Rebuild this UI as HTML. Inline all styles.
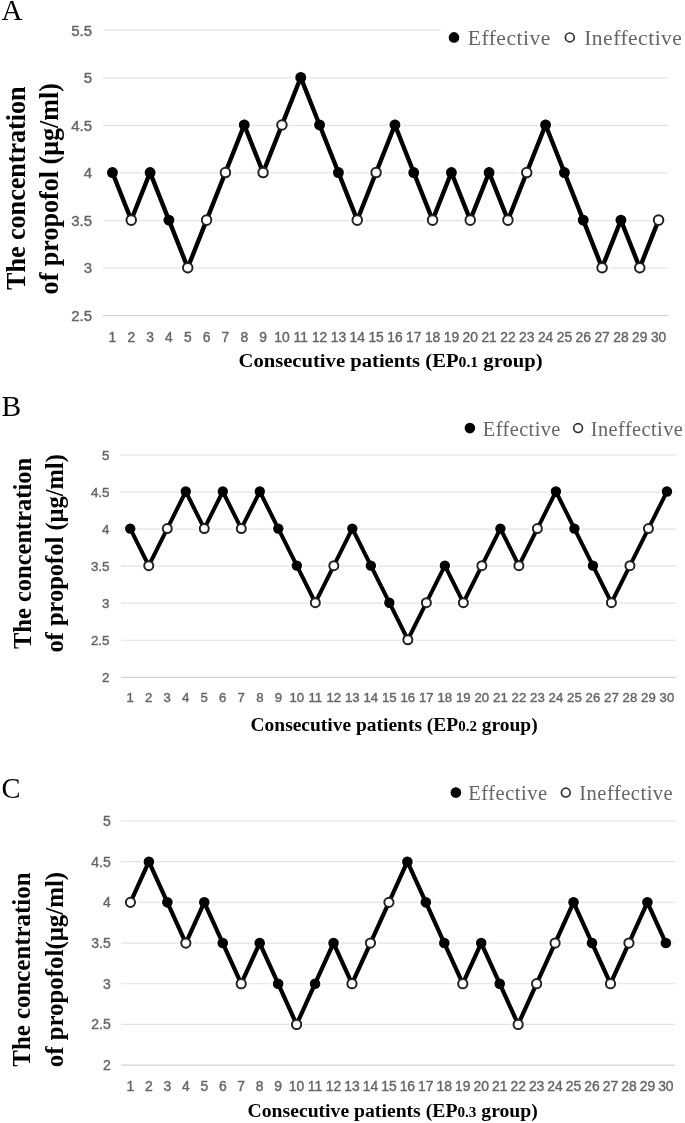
<!DOCTYPE html>
<html><head><meta charset="utf-8"><style>
html,body{margin:0;padding:0;background:#fff;}
svg{display:block;will-change:transform;}
.g{stroke:#e3e3e3;stroke-width:1.2;}
.ax{stroke:#d2d2d2;stroke-width:1.2;}
.tk{font-family:"Liberation Sans",sans-serif;fill:#666;stroke:#666;stroke-width:0.4px;}
.lt{font-family:"Liberation Serif",serif;fill:#000;}
.lg{font-family:"Liberation Serif",serif;fill:#656565;}
.yt{font-family:"Liberation Serif",serif;font-weight:bold;fill:#000;}
</style></head><body>
<svg width="685" height="1123" viewBox="0 0 685 1123">
<rect width="685" height="1123" fill="#fff"/>
<line x1="103.00" y1="30.20" x2="668.00" y2="30.20" class="g"/>
<text x="92.00" y="35.57" class="tk" text-anchor="end" font-size="15">5.5</text>
<line x1="103.00" y1="77.78" x2="668.00" y2="77.78" class="g"/>
<text x="92.00" y="83.15" class="tk" text-anchor="end" font-size="15">5</text>
<line x1="103.00" y1="125.37" x2="668.00" y2="125.37" class="g"/>
<text x="92.00" y="130.74" class="tk" text-anchor="end" font-size="15">4.5</text>
<line x1="103.00" y1="172.95" x2="668.00" y2="172.95" class="g"/>
<text x="92.00" y="178.32" class="tk" text-anchor="end" font-size="15">4</text>
<line x1="103.00" y1="220.53" x2="668.00" y2="220.53" class="g"/>
<text x="92.00" y="225.90" class="tk" text-anchor="end" font-size="15">3.5</text>
<line x1="103.00" y1="268.12" x2="668.00" y2="268.12" class="g"/>
<text x="92.00" y="273.49" class="tk" text-anchor="end" font-size="15">3</text>
<line x1="103.00" y1="315.70" x2="668.00" y2="315.70" class="ax"/>
<text x="92.00" y="321.07" class="tk" text-anchor="end" font-size="15">2.5</text>
<text x="112.42" y="342.00" class="tk" text-anchor="middle" font-size="13.8">1</text>
<text x="131.25" y="342.00" class="tk" text-anchor="middle" font-size="13.8">2</text>
<text x="150.08" y="342.00" class="tk" text-anchor="middle" font-size="13.8">3</text>
<text x="168.92" y="342.00" class="tk" text-anchor="middle" font-size="13.8">4</text>
<text x="187.75" y="342.00" class="tk" text-anchor="middle" font-size="13.8">5</text>
<text x="206.58" y="342.00" class="tk" text-anchor="middle" font-size="13.8">6</text>
<text x="225.42" y="342.00" class="tk" text-anchor="middle" font-size="13.8">7</text>
<text x="244.25" y="342.00" class="tk" text-anchor="middle" font-size="13.8">8</text>
<text x="263.08" y="342.00" class="tk" text-anchor="middle" font-size="13.8">9</text>
<text x="281.92" y="342.00" class="tk" text-anchor="middle" font-size="13.8">10</text>
<text x="300.75" y="342.00" class="tk" text-anchor="middle" font-size="13.8">11</text>
<text x="319.58" y="342.00" class="tk" text-anchor="middle" font-size="13.8">12</text>
<text x="338.42" y="342.00" class="tk" text-anchor="middle" font-size="13.8">13</text>
<text x="357.25" y="342.00" class="tk" text-anchor="middle" font-size="13.8">14</text>
<text x="376.08" y="342.00" class="tk" text-anchor="middle" font-size="13.8">15</text>
<text x="394.92" y="342.00" class="tk" text-anchor="middle" font-size="13.8">16</text>
<text x="413.75" y="342.00" class="tk" text-anchor="middle" font-size="13.8">17</text>
<text x="432.58" y="342.00" class="tk" text-anchor="middle" font-size="13.8">18</text>
<text x="451.42" y="342.00" class="tk" text-anchor="middle" font-size="13.8">19</text>
<text x="470.25" y="342.00" class="tk" text-anchor="middle" font-size="13.8">20</text>
<text x="489.08" y="342.00" class="tk" text-anchor="middle" font-size="13.8">21</text>
<text x="507.92" y="342.00" class="tk" text-anchor="middle" font-size="13.8">22</text>
<text x="526.75" y="342.00" class="tk" text-anchor="middle" font-size="13.8">23</text>
<text x="545.58" y="342.00" class="tk" text-anchor="middle" font-size="13.8">24</text>
<text x="564.42" y="342.00" class="tk" text-anchor="middle" font-size="13.8">25</text>
<text x="583.25" y="342.00" class="tk" text-anchor="middle" font-size="13.8">26</text>
<text x="602.08" y="342.00" class="tk" text-anchor="middle" font-size="13.8">27</text>
<text x="620.92" y="342.00" class="tk" text-anchor="middle" font-size="13.8">28</text>
<text x="639.75" y="342.00" class="tk" text-anchor="middle" font-size="13.8">29</text>
<text x="658.58" y="342.00" class="tk" text-anchor="middle" font-size="13.8">30</text>
<circle cx="112.42" cy="172.55" r="7.45" fill="#fff"/>
<circle cx="131.25" cy="220.13" r="7.45" fill="#fff"/>
<circle cx="150.08" cy="172.55" r="7.45" fill="#fff"/>
<circle cx="168.92" cy="220.13" r="7.45" fill="#fff"/>
<circle cx="187.75" cy="267.72" r="7.45" fill="#fff"/>
<circle cx="206.58" cy="220.13" r="7.45" fill="#fff"/>
<circle cx="225.42" cy="172.55" r="7.45" fill="#fff"/>
<circle cx="244.25" cy="124.97" r="7.45" fill="#fff"/>
<circle cx="263.08" cy="172.55" r="7.45" fill="#fff"/>
<circle cx="281.92" cy="124.97" r="7.45" fill="#fff"/>
<circle cx="300.75" cy="77.38" r="7.45" fill="#fff"/>
<circle cx="319.58" cy="124.97" r="7.45" fill="#fff"/>
<circle cx="338.42" cy="172.55" r="7.45" fill="#fff"/>
<circle cx="357.25" cy="220.13" r="7.45" fill="#fff"/>
<circle cx="376.08" cy="172.55" r="7.45" fill="#fff"/>
<circle cx="394.92" cy="124.97" r="7.45" fill="#fff"/>
<circle cx="413.75" cy="172.55" r="7.45" fill="#fff"/>
<circle cx="432.58" cy="220.13" r="7.45" fill="#fff"/>
<circle cx="451.42" cy="172.55" r="7.45" fill="#fff"/>
<circle cx="470.25" cy="220.13" r="7.45" fill="#fff"/>
<circle cx="489.08" cy="172.55" r="7.45" fill="#fff"/>
<circle cx="507.92" cy="220.13" r="7.45" fill="#fff"/>
<circle cx="526.75" cy="172.55" r="7.45" fill="#fff"/>
<circle cx="545.58" cy="124.97" r="7.45" fill="#fff"/>
<circle cx="564.42" cy="172.55" r="7.45" fill="#fff"/>
<circle cx="583.25" cy="220.13" r="7.45" fill="#fff"/>
<circle cx="602.08" cy="267.72" r="7.45" fill="#fff"/>
<circle cx="620.92" cy="220.13" r="7.45" fill="#fff"/>
<circle cx="639.75" cy="267.72" r="7.45" fill="#fff"/>
<circle cx="658.58" cy="220.13" r="7.45" fill="#fff"/>
<polyline fill="none" stroke="#000" stroke-width="4.40" stroke-linejoin="miter" points="112.42,172.55 131.25,220.13 150.08,172.55 168.92,220.13 187.75,267.72 206.58,220.13 225.42,172.55 244.25,124.97 263.08,172.55 281.92,124.97 300.75,77.38 319.58,124.97 338.42,172.55 357.25,220.13 376.08,172.55 394.92,124.97 413.75,172.55 432.58,220.13 451.42,172.55 470.25,220.13 489.08,172.55 507.92,220.13 526.75,172.55 545.58,124.97 564.42,172.55 583.25,220.13 602.08,267.72 620.92,220.13 639.75,267.72 658.58,220.13"/>
<circle cx="112.42" cy="172.55" r="5.45" fill="#000"/>
<circle cx="131.25" cy="220.13" r="4.77" fill="#fff" stroke="#222" stroke-width="2"/>
<circle cx="150.08" cy="172.55" r="5.45" fill="#000"/>
<circle cx="168.92" cy="220.13" r="5.45" fill="#000"/>
<circle cx="187.75" cy="267.72" r="4.77" fill="#fff" stroke="#222" stroke-width="2"/>
<circle cx="206.58" cy="220.13" r="4.77" fill="#fff" stroke="#222" stroke-width="2"/>
<circle cx="225.42" cy="172.55" r="4.77" fill="#fff" stroke="#222" stroke-width="2"/>
<circle cx="244.25" cy="124.97" r="5.45" fill="#000"/>
<circle cx="263.08" cy="172.55" r="4.77" fill="#fff" stroke="#222" stroke-width="2"/>
<circle cx="281.92" cy="124.97" r="4.77" fill="#fff" stroke="#222" stroke-width="2"/>
<circle cx="300.75" cy="77.38" r="5.45" fill="#000"/>
<circle cx="319.58" cy="124.97" r="5.45" fill="#000"/>
<circle cx="338.42" cy="172.55" r="5.45" fill="#000"/>
<circle cx="357.25" cy="220.13" r="4.77" fill="#fff" stroke="#222" stroke-width="2"/>
<circle cx="376.08" cy="172.55" r="4.77" fill="#fff" stroke="#222" stroke-width="2"/>
<circle cx="394.92" cy="124.97" r="5.45" fill="#000"/>
<circle cx="413.75" cy="172.55" r="5.45" fill="#000"/>
<circle cx="432.58" cy="220.13" r="4.77" fill="#fff" stroke="#222" stroke-width="2"/>
<circle cx="451.42" cy="172.55" r="5.45" fill="#000"/>
<circle cx="470.25" cy="220.13" r="4.77" fill="#fff" stroke="#222" stroke-width="2"/>
<circle cx="489.08" cy="172.55" r="5.45" fill="#000"/>
<circle cx="507.92" cy="220.13" r="4.77" fill="#fff" stroke="#222" stroke-width="2"/>
<circle cx="526.75" cy="172.55" r="4.77" fill="#fff" stroke="#222" stroke-width="2"/>
<circle cx="545.58" cy="124.97" r="5.45" fill="#000"/>
<circle cx="564.42" cy="172.55" r="5.45" fill="#000"/>
<circle cx="583.25" cy="220.13" r="5.45" fill="#000"/>
<circle cx="602.08" cy="267.72" r="4.77" fill="#fff" stroke="#222" stroke-width="2"/>
<circle cx="620.92" cy="220.13" r="5.45" fill="#000"/>
<circle cx="639.75" cy="267.72" r="4.77" fill="#fff" stroke="#222" stroke-width="2"/>
<circle cx="658.58" cy="220.13" r="4.77" fill="#fff" stroke="#222" stroke-width="2"/>
<text x="1.5" y="20.1" class="lt" font-size="29">A</text>
<rect x="441" y="20" width="244" height="36" fill="#fff"/>
<circle cx="454" cy="37.4" r="5.3" fill="#000"/>
<circle cx="569.8" cy="37.4" r="4.4" fill="#fff" stroke="#333" stroke-width="1.7"/>
<text x="467.8" y="45.1" class="lg" font-size="21.5" letter-spacing="0.5">Effective</text>
<text x="584.2" y="45.1" class="lg" font-size="21.5" letter-spacing="0.5">Ineffective</text>
<text transform="translate(24.6,188.2) scale(1.05,1) rotate(-90)" class="yt" text-anchor="middle" font-size="26.1">The concentration</text>
<text transform="translate(58.2,188.7) scale(1.05,1) rotate(-90)" class="yt" text-anchor="middle" font-size="26.1">of propofol (μg/ml)</text>
<text transform="translate(238.5,367) scale(1.086,1)" class="yt" font-size="19" letter-spacing="0">Consecutive patients (EP<tspan font-size="14.5">0.1</tspan> group)</text>
<line x1="121.00" y1="455.00" x2="676.20" y2="455.00" class="g"/>
<text x="109.50" y="459.80" class="tk" text-anchor="end" font-size="13.4">5</text>
<line x1="121.00" y1="492.05" x2="676.20" y2="492.05" class="g"/>
<text x="109.50" y="496.85" class="tk" text-anchor="end" font-size="13.4">4.5</text>
<line x1="121.00" y1="529.10" x2="676.20" y2="529.10" class="g"/>
<text x="109.50" y="533.90" class="tk" text-anchor="end" font-size="13.4">4</text>
<line x1="121.00" y1="566.15" x2="676.20" y2="566.15" class="g"/>
<text x="109.50" y="570.95" class="tk" text-anchor="end" font-size="13.4">3.5</text>
<line x1="121.00" y1="603.20" x2="676.20" y2="603.20" class="g"/>
<text x="109.50" y="608.00" class="tk" text-anchor="end" font-size="13.4">3</text>
<line x1="121.00" y1="640.25" x2="676.20" y2="640.25" class="g"/>
<text x="109.50" y="645.05" class="tk" text-anchor="end" font-size="13.4">2.5</text>
<line x1="121.00" y1="677.30" x2="676.20" y2="677.30" class="ax"/>
<text x="109.50" y="682.10" class="tk" text-anchor="end" font-size="13.4">2</text>
<text x="130.25" y="702.00" class="tk" text-anchor="middle" font-size="13.2">1</text>
<text x="148.76" y="702.00" class="tk" text-anchor="middle" font-size="13.2">2</text>
<text x="167.27" y="702.00" class="tk" text-anchor="middle" font-size="13.2">3</text>
<text x="185.77" y="702.00" class="tk" text-anchor="middle" font-size="13.2">4</text>
<text x="204.28" y="702.00" class="tk" text-anchor="middle" font-size="13.2">5</text>
<text x="222.79" y="702.00" class="tk" text-anchor="middle" font-size="13.2">6</text>
<text x="241.29" y="702.00" class="tk" text-anchor="middle" font-size="13.2">7</text>
<text x="259.80" y="702.00" class="tk" text-anchor="middle" font-size="13.2">8</text>
<text x="278.31" y="702.00" class="tk" text-anchor="middle" font-size="13.2">9</text>
<text x="296.81" y="702.00" class="tk" text-anchor="middle" font-size="13.2">10</text>
<text x="315.32" y="702.00" class="tk" text-anchor="middle" font-size="13.2">11</text>
<text x="333.83" y="702.00" class="tk" text-anchor="middle" font-size="13.2">12</text>
<text x="352.33" y="702.00" class="tk" text-anchor="middle" font-size="13.2">13</text>
<text x="370.84" y="702.00" class="tk" text-anchor="middle" font-size="13.2">14</text>
<text x="389.35" y="702.00" class="tk" text-anchor="middle" font-size="13.2">15</text>
<text x="407.85" y="702.00" class="tk" text-anchor="middle" font-size="13.2">16</text>
<text x="426.36" y="702.00" class="tk" text-anchor="middle" font-size="13.2">17</text>
<text x="444.87" y="702.00" class="tk" text-anchor="middle" font-size="13.2">18</text>
<text x="463.37" y="702.00" class="tk" text-anchor="middle" font-size="13.2">19</text>
<text x="481.88" y="702.00" class="tk" text-anchor="middle" font-size="13.2">20</text>
<text x="500.39" y="702.00" class="tk" text-anchor="middle" font-size="13.2">21</text>
<text x="518.89" y="702.00" class="tk" text-anchor="middle" font-size="13.2">22</text>
<text x="537.40" y="702.00" class="tk" text-anchor="middle" font-size="13.2">23</text>
<text x="555.91" y="702.00" class="tk" text-anchor="middle" font-size="13.2">24</text>
<text x="574.41" y="702.00" class="tk" text-anchor="middle" font-size="13.2">25</text>
<text x="592.92" y="702.00" class="tk" text-anchor="middle" font-size="13.2">26</text>
<text x="611.43" y="702.00" class="tk" text-anchor="middle" font-size="13.2">27</text>
<text x="629.93" y="702.00" class="tk" text-anchor="middle" font-size="13.2">28</text>
<text x="648.44" y="702.00" class="tk" text-anchor="middle" font-size="13.2">29</text>
<text x="666.95" y="702.00" class="tk" text-anchor="middle" font-size="13.2">30</text>
<circle cx="130.25" cy="528.60" r="7.20" fill="#fff"/>
<circle cx="148.76" cy="565.65" r="7.20" fill="#fff"/>
<circle cx="167.27" cy="528.60" r="7.20" fill="#fff"/>
<circle cx="185.77" cy="491.55" r="7.20" fill="#fff"/>
<circle cx="204.28" cy="528.60" r="7.20" fill="#fff"/>
<circle cx="222.79" cy="491.55" r="7.20" fill="#fff"/>
<circle cx="241.29" cy="528.60" r="7.20" fill="#fff"/>
<circle cx="259.80" cy="491.55" r="7.20" fill="#fff"/>
<circle cx="278.31" cy="528.60" r="7.20" fill="#fff"/>
<circle cx="296.81" cy="565.65" r="7.20" fill="#fff"/>
<circle cx="315.32" cy="602.70" r="7.20" fill="#fff"/>
<circle cx="333.83" cy="565.65" r="7.20" fill="#fff"/>
<circle cx="352.33" cy="528.60" r="7.20" fill="#fff"/>
<circle cx="370.84" cy="565.65" r="7.20" fill="#fff"/>
<circle cx="389.35" cy="602.70" r="7.20" fill="#fff"/>
<circle cx="407.85" cy="639.75" r="7.20" fill="#fff"/>
<circle cx="426.36" cy="602.70" r="7.20" fill="#fff"/>
<circle cx="444.87" cy="565.65" r="7.20" fill="#fff"/>
<circle cx="463.37" cy="602.70" r="7.20" fill="#fff"/>
<circle cx="481.88" cy="565.65" r="7.20" fill="#fff"/>
<circle cx="500.39" cy="528.60" r="7.20" fill="#fff"/>
<circle cx="518.89" cy="565.65" r="7.20" fill="#fff"/>
<circle cx="537.40" cy="528.60" r="7.20" fill="#fff"/>
<circle cx="555.91" cy="491.55" r="7.20" fill="#fff"/>
<circle cx="574.41" cy="528.60" r="7.20" fill="#fff"/>
<circle cx="592.92" cy="565.65" r="7.20" fill="#fff"/>
<circle cx="611.43" cy="602.70" r="7.20" fill="#fff"/>
<circle cx="629.93" cy="565.65" r="7.20" fill="#fff"/>
<circle cx="648.44" cy="528.60" r="7.20" fill="#fff"/>
<circle cx="666.95" cy="491.55" r="7.20" fill="#fff"/>
<polyline fill="none" stroke="#000" stroke-width="4.00" stroke-linejoin="miter" points="130.25,528.60 148.76,565.65 167.27,528.60 185.77,491.55 204.28,528.60 222.79,491.55 241.29,528.60 259.80,491.55 278.31,528.60 296.81,565.65 315.32,602.70 333.83,565.65 352.33,528.60 370.84,565.65 389.35,602.70 407.85,639.75 426.36,602.70 444.87,565.65 463.37,602.70 481.88,565.65 500.39,528.60 518.89,565.65 537.40,528.60 555.91,491.55 574.41,528.60 592.92,565.65 611.43,602.70 629.93,565.65 648.44,528.60 666.95,491.55"/>
<circle cx="130.25" cy="528.60" r="5.20" fill="#000"/>
<circle cx="148.76" cy="565.65" r="4.52" fill="#fff" stroke="#222" stroke-width="2"/>
<circle cx="167.27" cy="528.60" r="4.52" fill="#fff" stroke="#222" stroke-width="2"/>
<circle cx="185.77" cy="491.55" r="5.20" fill="#000"/>
<circle cx="204.28" cy="528.60" r="4.52" fill="#fff" stroke="#222" stroke-width="2"/>
<circle cx="222.79" cy="491.55" r="5.20" fill="#000"/>
<circle cx="241.29" cy="528.60" r="4.52" fill="#fff" stroke="#222" stroke-width="2"/>
<circle cx="259.80" cy="491.55" r="5.20" fill="#000"/>
<circle cx="278.31" cy="528.60" r="5.20" fill="#000"/>
<circle cx="296.81" cy="565.65" r="5.20" fill="#000"/>
<circle cx="315.32" cy="602.70" r="4.52" fill="#fff" stroke="#222" stroke-width="2"/>
<circle cx="333.83" cy="565.65" r="4.52" fill="#fff" stroke="#222" stroke-width="2"/>
<circle cx="352.33" cy="528.60" r="5.20" fill="#000"/>
<circle cx="370.84" cy="565.65" r="5.20" fill="#000"/>
<circle cx="389.35" cy="602.70" r="5.20" fill="#000"/>
<circle cx="407.85" cy="639.75" r="4.52" fill="#fff" stroke="#222" stroke-width="2"/>
<circle cx="426.36" cy="602.70" r="4.52" fill="#fff" stroke="#222" stroke-width="2"/>
<circle cx="444.87" cy="565.65" r="5.20" fill="#000"/>
<circle cx="463.37" cy="602.70" r="4.52" fill="#fff" stroke="#222" stroke-width="2"/>
<circle cx="481.88" cy="565.65" r="4.52" fill="#fff" stroke="#222" stroke-width="2"/>
<circle cx="500.39" cy="528.60" r="5.20" fill="#000"/>
<circle cx="518.89" cy="565.65" r="4.52" fill="#fff" stroke="#222" stroke-width="2"/>
<circle cx="537.40" cy="528.60" r="4.52" fill="#fff" stroke="#222" stroke-width="2"/>
<circle cx="555.91" cy="491.55" r="5.20" fill="#000"/>
<circle cx="574.41" cy="528.60" r="5.20" fill="#000"/>
<circle cx="592.92" cy="565.65" r="5.20" fill="#000"/>
<circle cx="611.43" cy="602.70" r="4.52" fill="#fff" stroke="#222" stroke-width="2"/>
<circle cx="629.93" cy="565.65" r="4.52" fill="#fff" stroke="#222" stroke-width="2"/>
<circle cx="648.44" cy="528.60" r="4.52" fill="#fff" stroke="#222" stroke-width="2"/>
<circle cx="666.95" cy="491.55" r="5.20" fill="#000"/>
<text x="1.5" y="415.7" class="lt" font-size="29.5">B</text>
<circle cx="469.9" cy="428.1" r="5.3" fill="#000"/>
<circle cx="578.1" cy="428.1" r="4.4" fill="#fff" stroke="#333" stroke-width="1.7"/>
<text x="482.8" y="435.5" class="lg" font-size="20.3" letter-spacing="0.45">Effective</text>
<text x="590.8" y="435.5" class="lg" font-size="20.3" letter-spacing="0.45">Ineffective</text>
<text transform="translate(30.9,553.4) scale(1.05,1) rotate(-90)" class="yt" text-anchor="middle" font-size="24.5">The concentration</text>
<text transform="translate(62.5,553.4) scale(1.05,1) rotate(-90)" class="yt" text-anchor="middle" font-size="24.5">of propofol (μg/ml)</text>
<text transform="translate(250.5,731.4) scale(1.082,1)" class="yt" font-size="18" letter-spacing="0">Consecutive patients (EP<tspan font-size="13.8">0.2</tspan> group)</text>
<line x1="121.20" y1="821.00" x2="675.10" y2="821.00" class="g"/>
<text x="110.80" y="826.01" class="tk" text-anchor="end" font-size="14">5</text>
<line x1="121.20" y1="861.68" x2="675.10" y2="861.68" class="g"/>
<text x="110.80" y="866.70" class="tk" text-anchor="end" font-size="14">4.5</text>
<line x1="121.20" y1="902.37" x2="675.10" y2="902.37" class="g"/>
<text x="110.80" y="907.38" class="tk" text-anchor="end" font-size="14">4</text>
<line x1="121.20" y1="943.05" x2="675.10" y2="943.05" class="g"/>
<text x="110.80" y="948.06" class="tk" text-anchor="end" font-size="14">3.5</text>
<line x1="121.20" y1="983.73" x2="675.10" y2="983.73" class="g"/>
<text x="110.80" y="988.75" class="tk" text-anchor="end" font-size="14">3</text>
<line x1="121.20" y1="1024.42" x2="675.10" y2="1024.42" class="g"/>
<text x="110.80" y="1029.43" class="tk" text-anchor="end" font-size="14">2.5</text>
<line x1="121.20" y1="1065.10" x2="675.10" y2="1065.10" class="ax"/>
<text x="110.80" y="1070.11" class="tk" text-anchor="end" font-size="14">2</text>
<text x="130.43" y="1090.70" class="tk" text-anchor="middle" font-size="13.9">1</text>
<text x="148.90" y="1090.70" class="tk" text-anchor="middle" font-size="13.9">2</text>
<text x="167.36" y="1090.70" class="tk" text-anchor="middle" font-size="13.9">3</text>
<text x="185.82" y="1090.70" class="tk" text-anchor="middle" font-size="13.9">4</text>
<text x="204.28" y="1090.70" class="tk" text-anchor="middle" font-size="13.9">5</text>
<text x="222.75" y="1090.70" class="tk" text-anchor="middle" font-size="13.9">6</text>
<text x="241.21" y="1090.70" class="tk" text-anchor="middle" font-size="13.9">7</text>
<text x="259.68" y="1090.70" class="tk" text-anchor="middle" font-size="13.9">8</text>
<text x="278.14" y="1090.70" class="tk" text-anchor="middle" font-size="13.9">9</text>
<text x="296.60" y="1090.70" class="tk" text-anchor="middle" font-size="13.9">10</text>
<text x="315.06" y="1090.70" class="tk" text-anchor="middle" font-size="13.9">11</text>
<text x="333.53" y="1090.70" class="tk" text-anchor="middle" font-size="13.9">12</text>
<text x="351.99" y="1090.70" class="tk" text-anchor="middle" font-size="13.9">13</text>
<text x="370.45" y="1090.70" class="tk" text-anchor="middle" font-size="13.9">14</text>
<text x="388.92" y="1090.70" class="tk" text-anchor="middle" font-size="13.9">15</text>
<text x="407.38" y="1090.70" class="tk" text-anchor="middle" font-size="13.9">16</text>
<text x="425.84" y="1090.70" class="tk" text-anchor="middle" font-size="13.9">17</text>
<text x="444.31" y="1090.70" class="tk" text-anchor="middle" font-size="13.9">18</text>
<text x="462.77" y="1090.70" class="tk" text-anchor="middle" font-size="13.9">19</text>
<text x="481.23" y="1090.70" class="tk" text-anchor="middle" font-size="13.9">20</text>
<text x="499.70" y="1090.70" class="tk" text-anchor="middle" font-size="13.9">21</text>
<text x="518.16" y="1090.70" class="tk" text-anchor="middle" font-size="13.9">22</text>
<text x="536.62" y="1090.70" class="tk" text-anchor="middle" font-size="13.9">23</text>
<text x="555.09" y="1090.70" class="tk" text-anchor="middle" font-size="13.9">24</text>
<text x="573.55" y="1090.70" class="tk" text-anchor="middle" font-size="13.9">25</text>
<text x="592.01" y="1090.70" class="tk" text-anchor="middle" font-size="13.9">26</text>
<text x="610.48" y="1090.70" class="tk" text-anchor="middle" font-size="13.9">27</text>
<text x="628.94" y="1090.70" class="tk" text-anchor="middle" font-size="13.9">28</text>
<text x="647.40" y="1090.70" class="tk" text-anchor="middle" font-size="13.9">29</text>
<text x="665.87" y="1090.70" class="tk" text-anchor="middle" font-size="13.9">30</text>
<circle cx="130.43" cy="902.37" r="7.30" fill="#fff"/>
<circle cx="148.90" cy="861.68" r="7.30" fill="#fff"/>
<circle cx="167.36" cy="902.37" r="7.30" fill="#fff"/>
<circle cx="185.82" cy="943.05" r="7.30" fill="#fff"/>
<circle cx="204.28" cy="902.37" r="7.30" fill="#fff"/>
<circle cx="222.75" cy="943.05" r="7.30" fill="#fff"/>
<circle cx="241.21" cy="983.73" r="7.30" fill="#fff"/>
<circle cx="259.68" cy="943.05" r="7.30" fill="#fff"/>
<circle cx="278.14" cy="983.73" r="7.30" fill="#fff"/>
<circle cx="296.60" cy="1024.42" r="7.30" fill="#fff"/>
<circle cx="315.06" cy="983.73" r="7.30" fill="#fff"/>
<circle cx="333.53" cy="943.05" r="7.30" fill="#fff"/>
<circle cx="351.99" cy="983.73" r="7.30" fill="#fff"/>
<circle cx="370.45" cy="943.05" r="7.30" fill="#fff"/>
<circle cx="388.92" cy="902.37" r="7.30" fill="#fff"/>
<circle cx="407.38" cy="861.68" r="7.30" fill="#fff"/>
<circle cx="425.84" cy="902.37" r="7.30" fill="#fff"/>
<circle cx="444.31" cy="943.05" r="7.30" fill="#fff"/>
<circle cx="462.77" cy="983.73" r="7.30" fill="#fff"/>
<circle cx="481.23" cy="943.05" r="7.30" fill="#fff"/>
<circle cx="499.70" cy="983.73" r="7.30" fill="#fff"/>
<circle cx="518.16" cy="1024.42" r="7.30" fill="#fff"/>
<circle cx="536.62" cy="983.73" r="7.30" fill="#fff"/>
<circle cx="555.09" cy="943.05" r="7.30" fill="#fff"/>
<circle cx="573.55" cy="902.37" r="7.30" fill="#fff"/>
<circle cx="592.01" cy="943.05" r="7.30" fill="#fff"/>
<circle cx="610.48" cy="983.73" r="7.30" fill="#fff"/>
<circle cx="628.94" cy="943.05" r="7.30" fill="#fff"/>
<circle cx="647.40" cy="902.37" r="7.30" fill="#fff"/>
<circle cx="665.87" cy="943.05" r="7.30" fill="#fff"/>
<polyline fill="none" stroke="#000" stroke-width="4.20" stroke-linejoin="miter" points="130.43,902.37 148.90,861.68 167.36,902.37 185.82,943.05 204.28,902.37 222.75,943.05 241.21,983.73 259.68,943.05 278.14,983.73 296.60,1024.42 315.06,983.73 333.53,943.05 351.99,983.73 370.45,943.05 388.92,902.37 407.38,861.68 425.84,902.37 444.31,943.05 462.77,983.73 481.23,943.05 499.70,983.73 518.16,1024.42 536.62,983.73 555.09,943.05 573.55,902.37 592.01,943.05 610.48,983.73 628.94,943.05 647.40,902.37 665.87,943.05"/>
<circle cx="130.43" cy="902.37" r="4.62" fill="#fff" stroke="#222" stroke-width="2"/>
<circle cx="148.90" cy="861.68" r="5.30" fill="#000"/>
<circle cx="167.36" cy="902.37" r="5.30" fill="#000"/>
<circle cx="185.82" cy="943.05" r="4.62" fill="#fff" stroke="#222" stroke-width="2"/>
<circle cx="204.28" cy="902.37" r="5.30" fill="#000"/>
<circle cx="222.75" cy="943.05" r="5.30" fill="#000"/>
<circle cx="241.21" cy="983.73" r="4.62" fill="#fff" stroke="#222" stroke-width="2"/>
<circle cx="259.68" cy="943.05" r="5.30" fill="#000"/>
<circle cx="278.14" cy="983.73" r="5.30" fill="#000"/>
<circle cx="296.60" cy="1024.42" r="4.62" fill="#fff" stroke="#222" stroke-width="2"/>
<circle cx="315.06" cy="983.73" r="5.30" fill="#000"/>
<circle cx="333.53" cy="943.05" r="5.30" fill="#000"/>
<circle cx="351.99" cy="983.73" r="4.62" fill="#fff" stroke="#222" stroke-width="2"/>
<circle cx="370.45" cy="943.05" r="4.62" fill="#fff" stroke="#222" stroke-width="2"/>
<circle cx="388.92" cy="902.37" r="4.62" fill="#fff" stroke="#222" stroke-width="2"/>
<circle cx="407.38" cy="861.68" r="5.30" fill="#000"/>
<circle cx="425.84" cy="902.37" r="5.30" fill="#000"/>
<circle cx="444.31" cy="943.05" r="5.30" fill="#000"/>
<circle cx="462.77" cy="983.73" r="4.62" fill="#fff" stroke="#222" stroke-width="2"/>
<circle cx="481.23" cy="943.05" r="5.30" fill="#000"/>
<circle cx="499.70" cy="983.73" r="5.30" fill="#000"/>
<circle cx="518.16" cy="1024.42" r="4.62" fill="#fff" stroke="#222" stroke-width="2"/>
<circle cx="536.62" cy="983.73" r="4.62" fill="#fff" stroke="#222" stroke-width="2"/>
<circle cx="555.09" cy="943.05" r="4.62" fill="#fff" stroke="#222" stroke-width="2"/>
<circle cx="573.55" cy="902.37" r="5.30" fill="#000"/>
<circle cx="592.01" cy="943.05" r="5.30" fill="#000"/>
<circle cx="610.48" cy="983.73" r="4.62" fill="#fff" stroke="#222" stroke-width="2"/>
<circle cx="628.94" cy="943.05" r="4.62" fill="#fff" stroke="#222" stroke-width="2"/>
<circle cx="647.40" cy="902.37" r="5.30" fill="#000"/>
<circle cx="665.87" cy="943.05" r="5.30" fill="#000"/>
<text x="1.5" y="797.5" class="lt" font-size="28.5">C</text>
<circle cx="455.9" cy="792.6" r="5.3" fill="#000"/>
<circle cx="565.8" cy="792.6" r="4.4" fill="#fff" stroke="#333" stroke-width="1.7"/>
<text x="468.3" y="800.2" class="lg" font-size="20.5" letter-spacing="0.5">Effective</text>
<text x="579.3" y="800.2" class="lg" font-size="20.5" letter-spacing="0.5">Ineffective</text>
<text transform="translate(29.8,969.6) scale(1.05,1) rotate(-90)" class="yt" text-anchor="middle" font-size="24.9">The concentration</text>
<text transform="translate(63.1,969.6) scale(1.05,1) rotate(-90)" class="yt" text-anchor="middle" font-size="24.9">of propofol(μg/ml)</text>
<text transform="translate(247.5,1117) scale(1.07,1)" class="yt" font-size="18.4" letter-spacing="0">Consecutive patients (EP<tspan font-size="14.2">0.3</tspan> group)</text>
</svg>
</body></html>
